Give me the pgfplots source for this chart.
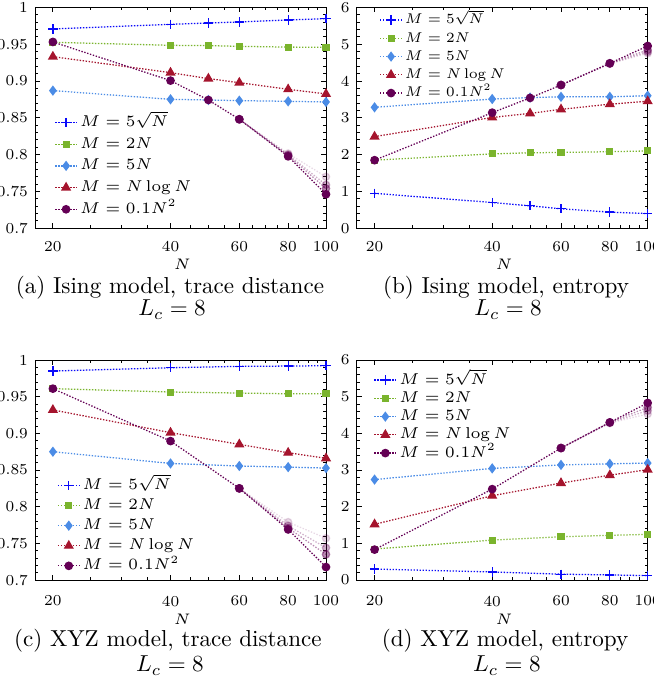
\RequirePackage{fix-cm}
\documentclass[border=0pt]{standalone}
\usepackage{pgfplots}
\pgfplotsset{compat=1.18}
\definecolor{cBlue}{RGB}{10,10,250}
\definecolor{cGreen}{RGB}{122,180,45}
\definecolor{cLBlue}{RGB}{75,140,230}
\definecolor{cRed}{RGB}{165,20,45}
\definecolor{cPurple}{RGB}{100,0,85}
\tikzset{
  s1/.style={color=cBlue, mark=+, mark size=2pt},
  s2/.style={color=cGreen, mark=square*, mark size=1.25pt},
  s3/.style={color=cLBlue, mark=diamond*, mark size=1.8pt},
  s4/.style={color=cRed, mark=triangle*, mark size=2pt},
  s5/.style={color=cPurple, mark=*, mark size=1.6pt},
  sf/.style={color=cPurple, mark=*, mark size=1.6pt, opacity=#1},
  every mark/.append style={solid},
}
\pgfplotsset{
  every axis plot/.append style={line width=0.55pt, dash pattern=on 0.6pt off 0.7pt},
  legend image code/.code={\draw[mark repeat=2,mark phase=2] plot coordinates {(0pt,0pt) (4.75pt,0pt) (9.5pt,0pt)};},
}
\begin{document}
\begin{tikzpicture}
\useasboundingbox (0pt,0pt) rectangle (283.18pt,-295.31pt);
% (a)
\begin{axis}[scale only axis, width=126pt, height=95.7pt,
  at={(15.16pt,-3.16pt)}, anchor=north west,
  xmode=log, xmin=18, xmax=100,
  xtick={20,40,60,80,100}, xticklabels={20,40,60,80,100},
  minor xtick={25,30,35,45,50,55,65,70,75,85,90,95},
  ymin=0.7, ymax=1, ytick={0.7,0.75,0.8,0.85,0.9,0.95,1},
  yticklabels={0.7,0.75,0.8,0.85,0.9,0.95,1}, minor y tick num=4,
  major tick length=2.2pt, minor tick length=1.3pt,
  tick style={black, line width=0.4pt},
  tick label style={font=\fontsize{6.6}{8}\selectfont},
  yticklabel style={inner sep=0pt, xshift=-2.9pt},
  xticklabel style={inner sep=0pt, yshift=-5.4pt},
  label style={font=\fontsize{6.6}{8}\selectfont},
  xlabel={$N$},
  xlabel style={at={(axis description cs:0.5,0)}, anchor=north, inner sep=0pt, yshift=-13pt, xshift=0.8pt},
  legend cell align=left,
  legend style={draw=none, fill=none, font=\fontsize{6.8}{8}\selectfont,
      inner sep=0pt, nodes={inner sep=0pt, text height=5pt, text depth=1.5pt},
      anchor=north west, column sep=1pt, at={(0.0653,0.515)}, row sep=2.9pt}]
\addplot[s1] coordinates {(20,0.9706)(40,0.9769)(50,0.9787)(60,0.9801)(80,0.9828)(100,0.9846)};
\addplot[s2] coordinates {(20,0.9525)(40,0.9484)(50,0.948)(60,0.947)(80,0.946)(100,0.9457)};
\addplot[s3] coordinates {(20,0.8869)(40,0.8751)(50,0.8742)(60,0.8733)(80,0.8724)(100,0.8715)};
\addplot[s4] coordinates {(20,0.933)(40,0.9113)(50,0.9032)(60,0.8977)(80,0.8887)(100,0.8824)};
\addplot[sf=0.15, forget plot] coordinates {(60,0.848)(80,0.8015)(100,0.770)};
\addplot[sf=0.3, forget plot] coordinates {(60,0.848)(80,0.800)(100,0.759)};
\addplot[sf=0.45, forget plot] coordinates {(60,0.848)(80,0.799)(100,0.754)};
\addplot[s5] coordinates {(20,0.953)(40,0.9005)(50,0.8742)(60,0.848)(80,0.7977)(100,0.7462)};
\legend{$M=5\sqrt{N}$,$M=2N$,$M=5N$,$M=N\log N$,$M=0.1N^2$}
\end{axis}
% (b)
\begin{axis}[scale only axis, width=126pt, height=95.7pt,
  at={(154.45pt,-3.16pt)}, anchor=north west,
  xmode=log, xmin=18, xmax=100,
  xtick={20,40,60,80,100}, xticklabels={20,40,60,80,100},
  minor xtick={25,30,35,45,50,55,65,70,75,85,90,95},
  ymin=0, ymax=6, ytick={0,1,2,3,4,5,6}, yticklabels={0,1,2,3,4,5,6}, minor y tick num=4,
  major tick length=2.2pt, minor tick length=1.3pt,
  tick style={black, line width=0.4pt},
  tick label style={font=\fontsize{6.6}{8}\selectfont},
  yticklabel style={inner sep=0pt, xshift=-2.9pt},
  xticklabel style={inner sep=0pt, yshift=-5.4pt},
  label style={font=\fontsize{6.6}{8}\selectfont},
  xlabel={$N$},
  xlabel style={at={(axis description cs:0.5,0)}, anchor=north, inner sep=0pt, yshift=-13pt, xshift=0.8pt},
  legend cell align=left,
  legend style={draw=none, fill=none, font=\fontsize{6.1}{7}\selectfont,
      inner sep=0pt, nodes={inner sep=0pt, text height=4.6pt, text depth=1.3pt},
      anchor=north west, column sep=1pt, at={(0.0766,0.975)}, row sep=2pt}]
\addplot[s1] coordinates {(20,0.95)(40,0.70)(50,0.61)(60,0.53)(80,0.44)(100,0.40)};
\addplot[s2] coordinates {(20,1.85)(40,2.02)(50,2.05)(60,2.06)(80,2.08)(100,2.10)};
\addplot[s3] coordinates {(20,3.285)(40,3.51)(50,3.55)(60,3.57)(80,3.57)(100,3.60)};
\addplot[s4] coordinates {(20,2.49)(40,3.01)(50,3.12)(60,3.23)(80,3.37)(100,3.45)};
\addplot[sf=0.15, forget plot] coordinates {(60,3.89)(80,4.47)(100,4.75)};
\addplot[sf=0.3, forget plot] coordinates {(60,3.89)(80,4.47)(100,4.79)};
\addplot[sf=0.45, forget plot] coordinates {(60,3.89)(80,4.48)(100,4.84)};
\addplot[s5] coordinates {(20,1.85)(40,3.14)(50,3.54)(60,3.89)(80,4.48)(100,4.95)};
\legend{$M=5\sqrt{N}$,$M=2N$,$M=5N$,$M=N\log N$,$M=0.1N^2$}
\end{axis}
% (c)
\begin{axis}[scale only axis, width=126pt, height=95.26pt,
  at={(15.16pt,-155.9pt)}, anchor=north west,
  xmode=log, xmin=18, xmax=100,
  xtick={20,40,60,80,100}, xticklabels={20,40,60,80,100},
  minor xtick={25,30,35,45,50,55,65,70,75,85,90,95},
  ymin=0.7, ymax=1, ytick={0.7,0.75,0.8,0.85,0.9,0.95,1},
  yticklabels={0.7,0.75,0.8,0.85,0.9,0.95,1}, minor y tick num=4,
  major tick length=2.2pt, minor tick length=1.3pt,
  tick style={black, line width=0.4pt},
  tick label style={font=\fontsize{6.6}{8}\selectfont},
  yticklabel style={inner sep=0pt, xshift=-2.9pt},
  xticklabel style={inner sep=0pt, yshift=-6.6pt},
  label style={font=\fontsize{6.6}{8}\selectfont},
  xlabel={$N$},
  xlabel style={at={(axis description cs:0.5,0)}, anchor=north, inner sep=0pt, yshift=-14.7pt, xshift=0.8pt},
  legend cell align=left,
  legend style={draw=none, fill=none, font=\fontsize{6.8}{8}\selectfont,
      inner sep=0pt, nodes={inner sep=0pt, text height=5pt, text depth=1.5pt},
      anchor=north west, column sep=1pt, at={(0.0746,0.466)}, row sep=2.2pt}]
\addplot[s1] coordinates {(20,0.985)(40,0.9895)(60,0.9914)(80,0.9918)(100,0.9923)};
\addplot[s2] coordinates {(20,0.961)(40,0.9564)(60,0.955)(80,0.954)(100,0.954)};
\addplot[s3] coordinates {(20,0.875)(40,0.859)(60,0.8555)(80,0.854)(100,0.8527)};
\addplot[s4] coordinates {(20,0.932)(40,0.901)(60,0.885)(80,0.8736)(100,0.866)};
\addplot[sf=0.15, forget plot] coordinates {(60,0.825)(80,0.779)(100,0.757)};
\addplot[sf=0.3, forget plot] coordinates {(60,0.825)(80,0.774)(100,0.744)};
\addplot[sf=0.45, forget plot] coordinates {(60,0.825)(80,0.771)(100,0.735)};
\addplot[s5] coordinates {(20,0.961)(40,0.8895)(60,0.825)(80,0.769)(100,0.7177)};
\legend{$M=5\sqrt{N}$,$M=2N$,$M=5N$,$M=N\log N$,$M=0.1N^2$}
\end{axis}
% (d)
\begin{axis}[scale only axis, width=126pt, height=95.26pt,
  at={(154.45pt,-155.9pt)}, anchor=north west,
  xmode=log, xmin=18, xmax=100,
  xtick={20,40,60,80,100}, xticklabels={20,40,60,80,100},
  minor xtick={25,30,35,45,50,55,65,70,75,85,90,95},
  ymin=0, ymax=6, ytick={0,1,2,3,4,5,6}, yticklabels={0,1,2,3,4,5,6}, minor y tick num=4,
  major tick length=2.2pt, minor tick length=1.3pt,
  tick style={black, line width=0.4pt},
  tick label style={font=\fontsize{6.6}{8}\selectfont},
  yticklabel style={inner sep=0pt, xshift=-2.9pt},
  xticklabel style={inner sep=0pt, yshift=-6.6pt},
  label style={font=\fontsize{6.6}{8}\selectfont},
  xlabel={$N$},
  xlabel style={at={(axis description cs:0.5,0)}, anchor=north, inner sep=0pt, yshift=-14.7pt, xshift=0.8pt},
  legend cell align=left,
  legend style={draw=none, fill=none, font=\fontsize{6.8}{8}\selectfont,
      inner sep=0pt, nodes={inner sep=0pt, text height=5pt, text depth=1.5pt},
      anchor=north west, column sep=1pt, at={(0.057,0.945)}, row sep=1.4pt}]
\addplot[s1] coordinates {(20,0.30)(40,0.22)(60,0.16)(80,0.14)(100,0.12)};
\addplot[s2] coordinates {(20,0.845)(40,1.09)(60,1.18)(80,1.22)(100,1.245)};
\addplot[s3] coordinates {(20,2.74)(40,3.045)(60,3.14)(80,3.17)(100,3.19)};
\addplot[s4] coordinates {(20,1.52)(40,2.30)(60,2.645)(80,2.86)(100,3.01)};
\addplot[sf=0.15, forget plot] coordinates {(60,3.6)(80,4.28)(100,4.53)};
\addplot[sf=0.3, forget plot] coordinates {(60,3.6)(80,4.29)(100,4.62)};
\addplot[sf=0.45, forget plot] coordinates {(60,3.6)(80,4.30)(100,4.71)};
\addplot[s5] coordinates {(20,0.83)(40,2.48)(60,3.6)(80,4.3)(100,4.83)};
\legend{$M=5\sqrt{N}$,$M=2N$,$M=5N$,$M=N\log N$,$M=0.1N^2$}
\end{axis}
% captions
\node[anchor=base] at (73.6pt,-126.9pt) {(a) Ising model, trace distance};
\node[anchor=base] at (74.5pt,-136.8pt) {$L_c=8$};
\node[anchor=base] at (219.1pt,-126.9pt) {(b) Ising model, entropy};
\node[anchor=base] at (220pt,-136.8pt) {$L_c=8$};
\node[anchor=base] at (72.7pt,-280.1pt) {(c) XYZ model, trace distance};
\node[anchor=base] at (73.6pt,-290.9pt) {$L_c=8$};
\node[anchor=base] at (218.7pt,-280.1pt) {(d) XYZ model, entropy};
\node[anchor=base] at (219.5pt,-290.9pt) {$L_c=8$};
\end{tikzpicture}
\end{document}
